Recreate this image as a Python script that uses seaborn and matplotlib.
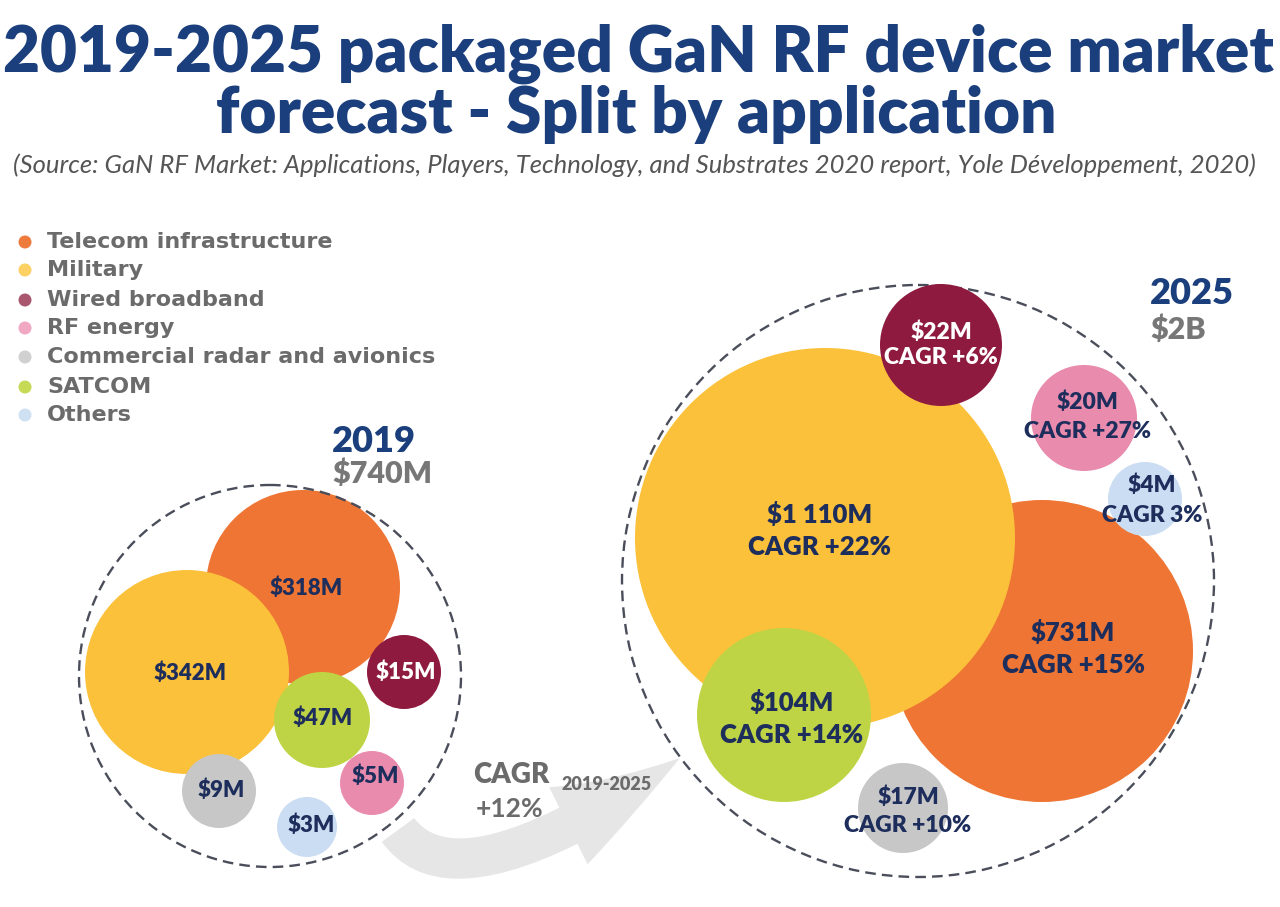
import matplotlib
matplotlib.use("Agg")
import matplotlib.pyplot as plt
from matplotlib.patches import Circle, FancyArrowPatch, ArrowStyle
from matplotlib.path import Path
import numpy as np
import pandas as pd
import seaborn as sns

# ---------------- data ----------------
categories = ["Telecom infrastructure", "Military", "Wired broadband", "RF energy",
              "Commercial radar and avionics", "SATCOM", "Others"]
values_2019 = [318, 342, 15, 5, 9, 47, 3]          # $M
values_2025 = [731, 1110, 22, 20, 17, 104, 4]      # $M
cagr_2025 = ["+15%", "+22%", "+6%", "+27%", "+10%", "+14%", "3%"]
years = ["2019", "2025"]
year_totals = ["$740M", "$2B"]
market_cagr = "+12%"
cagr_period = "2019-2025"
title_lines = ["2019-2025 packaged GaN RF device market", "forecast - Split by application"]
source_text = ("(Source: GaN RF Market: Applications, Players, Technology, and Substrates "
               "2020 report, Yole Développement, 2020)")

# ---------------- styles ----------------
bubble_colors = ["#EE7533", "#FBC13A", "#8E1A40", "#E98BAD", "#C7C7C7", "#BFD444", "#CBDDF2"]
legend_colors = ["#EE7A3C", "#FDD064", "#A9566F", "#F0A7C2", "#D0D0D0", "#C6DA55", "#CFE0F3"]
NAVY = "#1E2E5C"
TITLE = "#1B3E7C"
GREY = "#6B6B6B"
label_colors = [NAVY, NAVY, "white", NAVY, NAVY, NAVY, NAVY]
big_2025 = [True, True, False, False, False, True, False]

# ---------------- layout (pixels) ----------------
x_2019 = [303, 187, 404, 372, 219, 322, 307]
y_2019 = [587, 672, 672, 783, 791, 720, 827]
r_2019 = [97, 102, 37, 32, 37, 48, 30]
lx_2019 = [306, 190, 406, 375, 221, 323, 311]
ly_2019 = [588, 673, 672, 776, 790, 718, 825]

x_2025 = [1042, 825, 941, 1084, 903, 784, 1145]
y_2025 = [651, 538, 345, 418, 808, 715, 499]
r_2025 = [151, 190, 61, 53, 45, 87, 37]
lx_2025 = [1073, 820, 941, 1087, 908, 792, 1152]
lyv_2025 = [633, 515, 332, 402, 797, 703, 485]
lyc_2025 = [665, 547, 357, 432, 825, 735, 515]

frame_c = [(270, 676, 191), (918, 581, 296)]
year_xy = [(332, 452, 483), (1150, 304, 339)]

W, H, DPI = 1280, 907, 100

sns.set_theme(style="white")
plt.rcParams["font.family"] = ["Lato", "DejaVu Sans"]

fig = plt.figure(figsize=(W / DPI, H / DPI), dpi=DPI)
ax = fig.add_axes([0, 0, 1, 1])
ax.set_xlim(0, W)
ax.set_ylim(H, 0)
ax.axis("off")
renderer = fig.canvas.get_renderer()


def fit(t, target):
    w = t.get_window_extent(renderer=renderer).width
    t.set_fontsize(t.get_fontsize() * target / w)


# ---------------- bubbles ----------------
df = pd.DataFrame({
    "category": categories * 2,
    "year": ["2019"] * 7 + ["2025"] * 7,
    "value": values_2019 + values_2025,
    "x": x_2019 + x_2025,
    "y": y_2019 + y_2025,
    "r": r_2019 + r_2025,
})
df["s"] = (2 * df["r"] * 72 / DPI) ** 2
palette = dict(zip(categories, bubble_colors))
for yr in years:
    sub = df[df["year"] == yr]
    sns.scatterplot(data=sub, x="x", y="y", hue="category", palette=palette,
                    size="s", sizes={v: v for v in sub["s"].unique()},
                    legend=False, linewidth=0, edgecolor="none", alpha=1,
                    ax=ax, zorder=2)

# dashed frames
for i, (cx, cy, cr) in enumerate(frame_c):
    ax.add_patch(Circle((cx, cy), cr, fill=False, ec="#4A4D5A", lw=1.7,
                        ls=(0, (4.5, 2.6)), zorder=3 if i == 0 else 1.5))

# ---------------- bubble labels ----------------
def money(v):
    return "$" + f"{v:,}".replace(",", " ") + "M"

for i in range(7):
    ax.text(lx_2019[i], ly_2019[i], money(values_2019[i]), ha="center", va="center",
            fontsize=16, fontweight="heavy", color=label_colors[i], zorder=5)
    fs = 18.5 if big_2025[i] else 16.5
    ax.text(lx_2025[i], lyv_2025[i], money(values_2025[i]),
            ha="center", va="center", fontsize=fs, fontweight="heavy",
            color=label_colors[i], zorder=5)
    ax.text(lx_2025[i], lyc_2025[i], f"CAGR {cagr_2025[i]}", ha="center", va="center",
            fontsize=fs, fontweight="heavy", color=label_colors[i], zorder=5)

# year headers
for (yx, yb1, yb2), yr, tot in zip(year_xy, years, year_totals):
    ax.text(yx, yb1, yr, ha="left", va="baseline", fontsize=26, fontweight="heavy",
            color=TITLE)
    ax.text(yx, yb2, tot, ha="left", va="baseline", fontsize=22, fontweight="heavy",
            color="#777777")

# ---------------- arrow ----------------
arrow_path = Path([(398, 830), (458, 912), (680, 758)],
                  [Path.MOVETO, Path.CURVE3, Path.CURVE3])
arrow = FancyArrowPatch(path=arrow_path,
                        arrowstyle=ArrowStyle.Simple(head_length=94, head_width=62, tail_width=29),
                        mutation_scale=1, fc="#E6E6E6", ec="none", lw=0, zorder=0.5)
ax.add_patch(arrow)
ax.text(473, 783, "CAGR", ha="left", va="baseline", fontsize=20, fontweight="heavy", color=GREY, zorder=4)
ax.text(561, 790, cagr_period, ha="left", va="baseline", fontsize=13, fontweight="heavy", color=GREY, zorder=4)
ax.text(476, 817, market_cagr, ha="left", va="baseline", fontsize=19, fontweight="bold", color=GREY, zorder=4)

# ---------------- legend ----------------
leg_y = [242, 270, 300, 328, 357, 387, 415]
leg = pd.DataFrame({"x": [25] * 7, "y": leg_y, "category": categories})
sns.scatterplot(data=leg, x="x", y="y", hue="category",
                palette=dict(zip(categories, legend_colors)), s=(13 * 0.72) ** 2,
                linewidth=0, legend=False, ax=ax, zorder=4)
leg_texts = []
for cat, yy in zip(categories, leg_y):
    leg_texts.append(ax.text(47, yy, cat, ha="left", va="center", fontsize=14.5,
                             fontweight="bold", color=GREY, family=["DejaVu Sans"]))
fit(leg_texts[4], 390)
for t in leg_texts:
    t.set_fontsize(leg_texts[4].get_fontsize())

# ---------------- title ----------------
t1 = ax.text(638, 72, title_lines[0], ha="center", va="baseline", fontsize=40,
             fontweight="heavy", color=TITLE)
t2 = ax.text(636, 133, title_lines[1], ha="center", va="baseline", fontsize=40,
             fontweight="heavy", color=TITLE)
fit(t1, 1270)
t2.set_fontsize(t1.get_fontsize())
t3 = ax.text(634, 173, source_text, ha="center", va="baseline", fontsize=18,
             fontstyle="italic", fontweight="normal", color="#555555")
fit(t3, 1246)

fig.savefig("out.png", dpi=DPI, facecolor="white")
